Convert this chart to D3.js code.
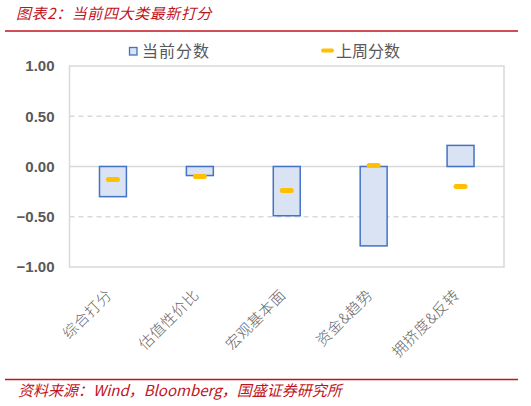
<!DOCTYPE html>
<html>
<head>
<meta charset="utf-8">
<script src="https://cdn.jsdelivr.net/npm/d3@7"></script>
<style>
  body { margin: 0; background: #fff; }
  text { font-family: "Noto Sans CJK SC", "Noto Sans", sans-serif; }
</style>
</head>
<body>
<div id="chart"></div>
<script>
// data
var categories = ["综合打分", "估值性价比", "宏观基本面", "资金&趋势", "拥挤度&反转"];
var currentScores = [-0.30, -0.09, -0.49, -0.79, 0.21];
var lastWeekScores = [-0.13, -0.10, -0.24, 0.01, -0.20];
var yTicks = [1.0, 0.5, 0.0, -0.5, -1.0];

var W = 531, H = 406;
var plot = { left: 69.5, right: 504, top: 66, bottom: 267 };

var svg = d3.select("#chart").append("svg")
  .attr("width", W)
  .attr("height", H);

// title + red rules
svg.append("text")
  .attr("x", 16).attr("y", 19)
  .attr("fill", "#C0141E")
  .style("font-size", "15px")
  .style("font-style", "italic")
  .style("letter-spacing", "0.6px")
  .text("图表2：当前四大类最新打分");

svg.append("line")
  .attr("x1", 5).attr("x2", 518).attr("y1", 31).attr("y2", 31)
  .attr("stroke", "#C0141E").attr("stroke-width", 1.6);

svg.append("line")
  .attr("x1", 5).attr("x2", 518).attr("y1", 379.5).attr("y2", 379.5)
  .attr("stroke", "#C0141E").attr("stroke-width", 1.6);

svg.append("text")
  .attr("x", 18).attr("y", 396)
  .attr("fill", "#C0141E")
  .style("font-size", "15px")
  .style("font-style", "italic")
  .text("资料来源：Wind，Bloomberg，国盛证券研究所");

// scales
var x = d3.scaleBand()
  .domain(categories)
  .range([plot.left, plot.right]);

var y = d3.scaleLinear()
  .domain([-1, 1])
  .range([plot.bottom, plot.top]);

// gridlines
svg.append("g")
  .selectAll("line")
  .data(yTicks.filter(function (d) { return Math.abs(d) < 1; }))
  .enter().append("line")
  .attr("x1", plot.left).attr("x2", plot.right)
  .attr("y1", function (d) { return y(d); })
  .attr("y2", function (d) { return y(d); })
  .attr("stroke", "#d9d9d9")
  .attr("stroke-width", 1.3)
  .attr("stroke-dasharray", function (d) { return d === 0 ? null : "5,4"; });

// plot border
svg.append("rect")
  .attr("x", plot.left).attr("y", plot.top)
  .attr("width", plot.right - plot.left)
  .attr("height", plot.bottom - plot.top)
  .attr("fill", "none")
  .attr("stroke", "#d9d9d9")
  .attr("stroke-width", 1.5);

// y axis
var yAxis = d3.axisLeft(y)
  .tickValues(yTicks)
  .tickFormat(d3.format(".2f"))
  .tickSize(0)
  .tickPadding(15);

var gy = svg.append("g")
  .attr("transform", "translate(" + plot.left + ",0)")
  .call(yAxis);
gy.select(".domain").remove();
gy.selectAll("text")
  .attr("fill", "#595959")
  .style("font-family", "'Liberation Sans', Arial, sans-serif")
  .style("font-size", "15px")
  .style("font-weight", "bold");

// x axis
var xAxis = d3.axisBottom(x).tickSize(0);
var gx = svg.append("g")
  .attr("transform", "translate(0," + plot.bottom + ")")
  .call(xAxis);
gx.select(".domain").remove();
gx.selectAll("text")
  .attr("x", 0).attr("y", 0).attr("dy", 0)
  .attr("transform", "translate(0,29) rotate(-45)")
  .style("text-anchor", "end")
  .attr("fill", "#666")
  .style("font-size", "15px")
  .style("font-weight", "300")
  .style("letter-spacing", "0.5px");

// bars
var barW = x.bandwidth() * 0.31;
svg.selectAll(".bar")
  .data(currentScores)
  .enter().append("rect")
  .attr("class", "bar")
  .attr("x", function (d, i) { return x(categories[i]) + x.bandwidth() / 2 - barW / 2; })
  .attr("y", function (d) { return y(Math.max(0, d)); })
  .attr("width", barW)
  .attr("height", function (d) { return Math.abs(y(d) - y(0)); })
  .attr("fill", "#DAE3F3")
  .attr("stroke", "#4472C4")
  .attr("stroke-width", 1.5);

// last week markers
svg.selectAll(".mark")
  .data(lastWeekScores)
  .enter().append("rect")
  .attr("class", "mark")
  .attr("x", function (d, i) { return x(categories[i]) + x.bandwidth() / 2 - 7; })
  .attr("y", function (d) { return y(d) - 2.5; })
  .attr("width", 14)
  .attr("height", 5)
  .attr("rx", 2.5)
  .attr("fill", "#FFC000");

// legend
var legend = svg.append("g");
legend.append("rect")
  .attr("x", 129.5).attr("y", 47.5)
  .attr("width", 7.5).attr("height", 7.5)
  .attr("fill", "#DAE3F3")
  .attr("stroke", "#4472C4")
  .attr("stroke-width", 1.3);
legend.append("text")
  .attr("x", 142).attr("y", 57)
  .attr("fill", "#595959")
  .style("font-size", "16px")
  .style("letter-spacing", "1px")
  .text("当前分数");
legend.append("rect")
  .attr("x", 321).attr("y", 48.5)
  .attr("width", 13).attr("height", 4)
  .attr("rx", 2)
  .attr("fill", "#FFC000");
legend.append("text")
  .attr("x", 336).attr("y", 57)
  .attr("fill", "#595959")
  .style("font-size", "16px")
  .text("上周分数");
</script>
</body>
</html>
